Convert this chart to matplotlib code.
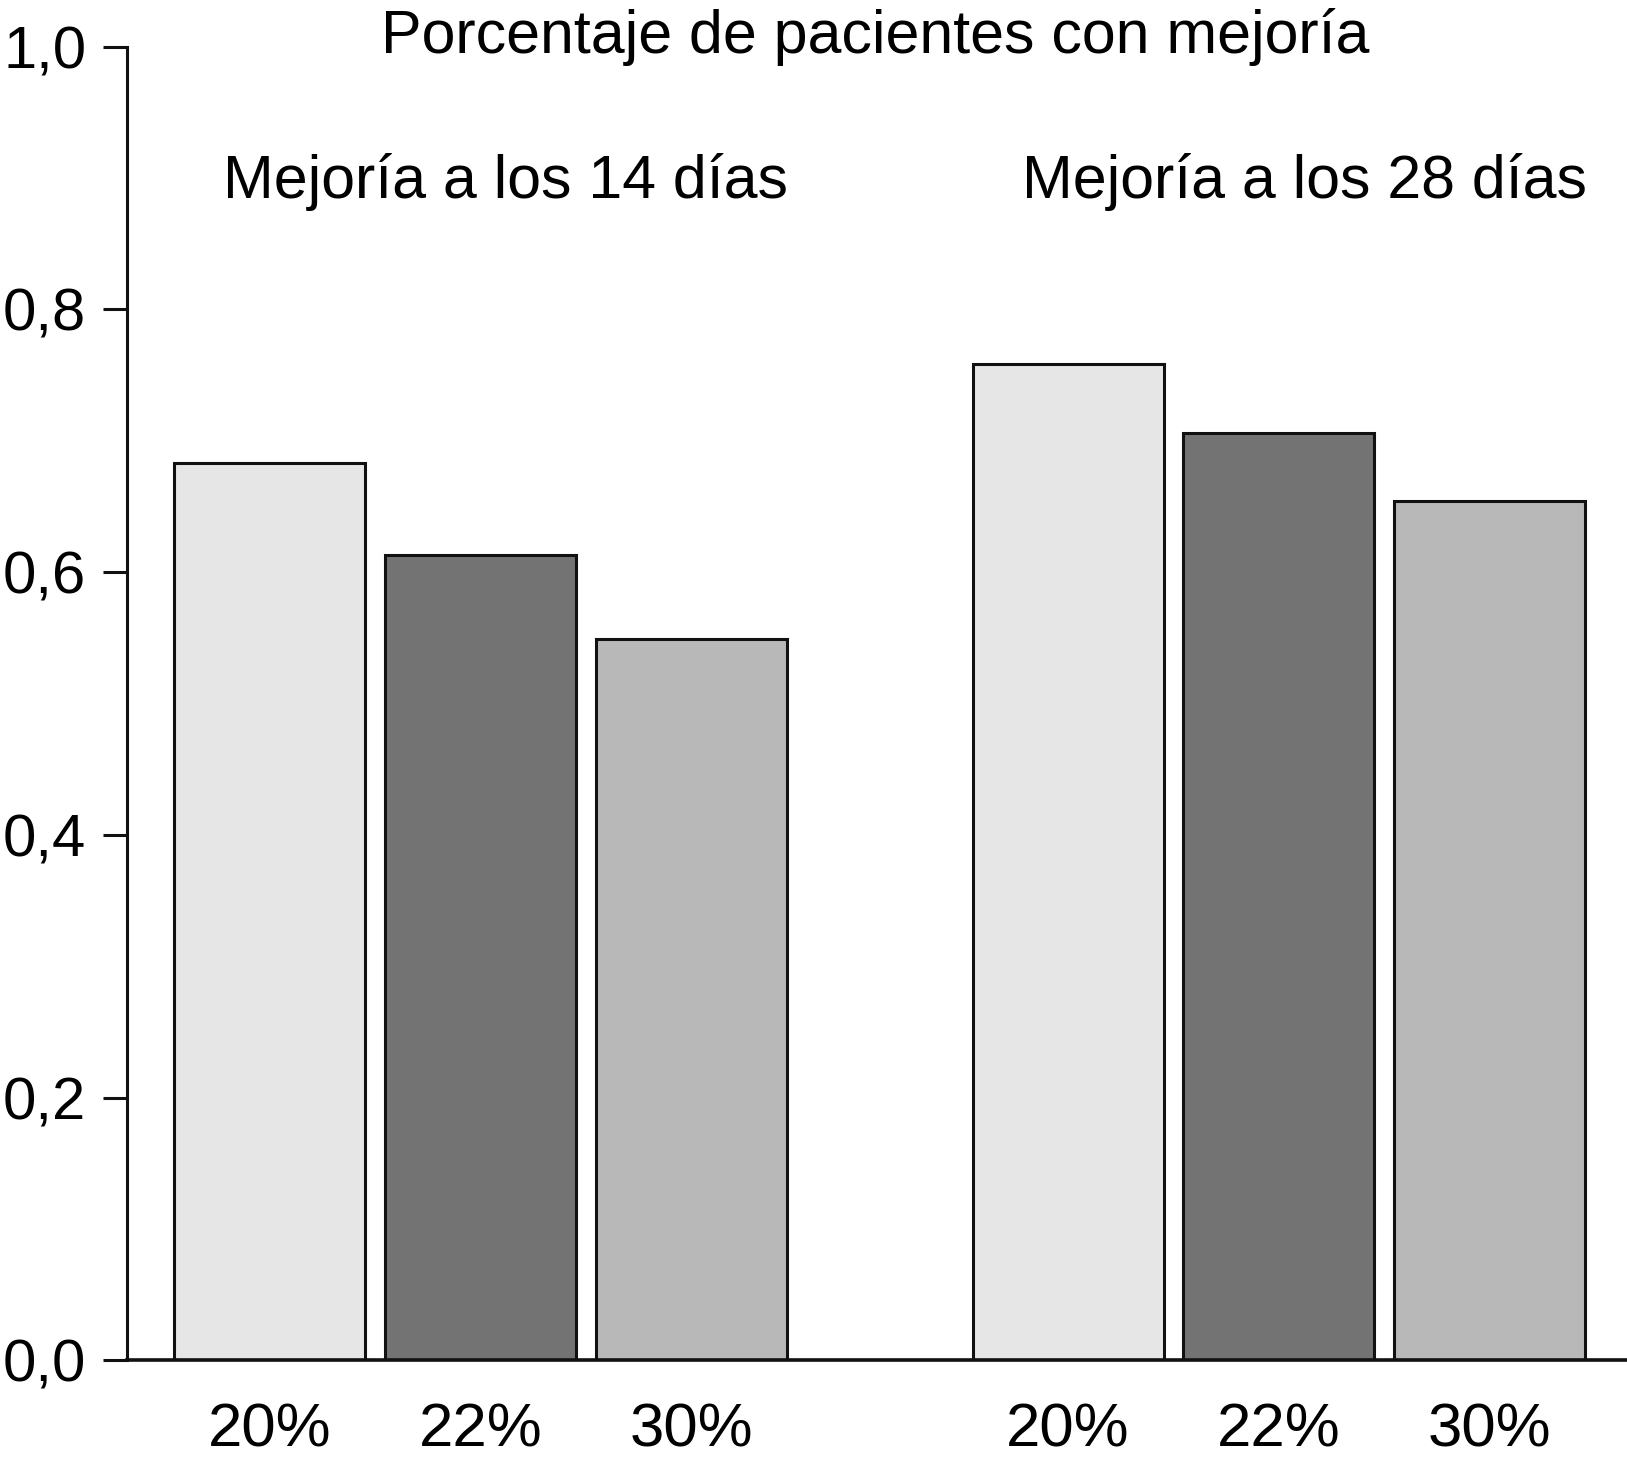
import matplotlib
matplotlib.use("Agg")
import matplotlib.pyplot as plt

plt.rcParams['font.family'] = ['Liberation Sans', 'DejaVu Sans']

# datos
grupos = ['Mejoría a los 14 días', 'Mejoría a los 28 días']
concentraciones = ['20%', '22%', '30%']
mejoria_14 = [0.683, 0.613, 0.549]
mejoria_28 = [0.758, 0.706, 0.654]
colores = ['#e6e6e6', '#737373', '#b8b8b8']
yticks = [0.0, 0.2, 0.4, 0.6, 0.8, 1.0]
ytick_labels = ['0,0', '0,2', '0,4', '0,6', '0,8', '1,0']

fig = plt.figure(figsize=(16.27, 14.68), dpi=100)
ax = fig.add_axes([0.0778, 0.0733, 0.9222, 0.895])

offset = 3.79
pos1 = [0, 1, 2]
pos2 = [p + offset for p in pos1]
width = 0.906

ax.bar(pos1, mejoria_14, width=width, color=colores, edgecolor='#111111', linewidth=2.2, zorder=2)
ax.bar(pos2, mejoria_28, width=width, color=colores, edgecolor='#111111', linewidth=2.2, zorder=2)

ax.set_xlim(-0.68, 6.443)
ax.set_ylim(0, 1.0)

ax.spines['top'].set_visible(False)
ax.spines['right'].set_visible(False)
ax.spines['left'].set_linewidth(2.2)
ax.spines['bottom'].set_linewidth(2.6)
ax.spines['left'].set_color('#111111')
ax.spines['bottom'].set_color('#111111')

ax.set_yticks(yticks)
ax.set_yticklabels(ytick_labels, fontsize=43)
ax.tick_params(axis='y', length=17, width=2.2, pad=12, color='#111111')

ax.set_xticks(pos1 + pos2)
ax.set_xticklabels(concentraciones * 2, fontsize=44.5)
ax.tick_params(axis='x', length=0, pad=30)

ax.text(2.875, 1.007, 'Porcentaje de pacientes con mejoría', fontsize=43.8,
        ha='center', va='center')
ax.text(1.12, 0.897, grupos[0], fontsize=43.8, ha='center', va='center')
ax.text(offset + 1.12, 0.897, grupos[1], fontsize=43.8, ha='center', va='center')

fig.savefig('out.png', dpi=100)
